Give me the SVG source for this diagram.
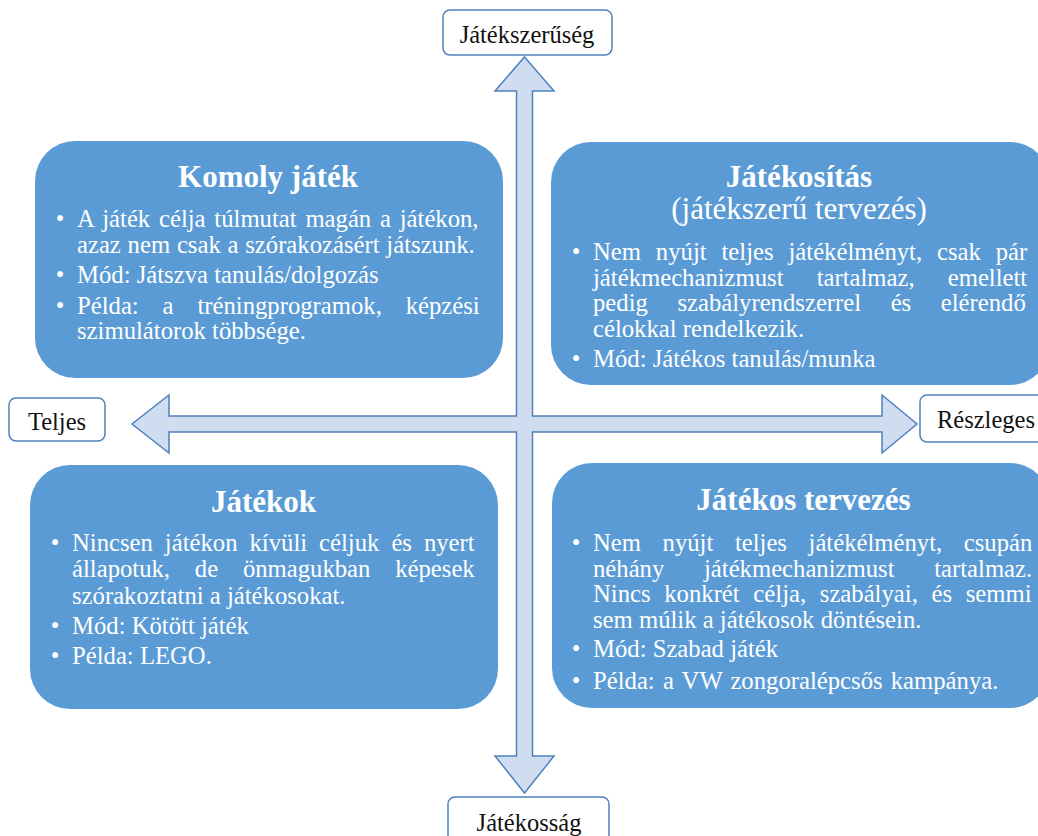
<svg xmlns="http://www.w3.org/2000/svg" width="1038" height="836" viewBox="0 0 1038 836">
<style>
.box{fill:#5B9BD5;stroke:none}
.lbl{fill:#FFFFFF;stroke:#4F81BD;stroke-width:1.5}
.arrow{fill:#D0DCEF;stroke:#4F81BD;stroke-width:1.5;stroke-linejoin:miter}
.t{font-family:"Liberation Serif","Times New Roman",serif;fill:#FFFFFF;font-size:24.7px}
.h{font-family:"Liberation Serif","Times New Roman",serif;fill:#FFFFFF;font-size:31px;text-anchor:middle}
.b{font-weight:bold}
.bul{text-anchor:middle}
.lt{font-family:"Liberation Serif","Times New Roman",serif;fill:#111111;font-size:24.5px}
</style>
<rect width="1038" height="836" fill="#FFFFFF"/>
<g id="connectors">
<path class="arrow" d="M524.5,57 L554,91 L532.5,91 L532.5,416 L882,416 L882,395 L917,424 L882,453 L882,432 L532.5,432 L532.5,756 L554,756 L524.5,793 L495,756 L516.5,756 L516.5,432 L169,432 L169,453 L132,424 L169,395 L169,416 L516.5,416 L516.5,91 L495,91 Z"/>
</g>
<g id="label-jatekszeruseg">
<rect class="lbl" x="443" y="10" width="169" height="45" rx="7"/>
<text class="lt" x="527" y="43" text-anchor="middle">Játékszerűség</text>
</g>
<g id="label-teljes">
<rect class="lbl" x="9" y="398" width="96" height="43" rx="7"/>
<text class="lt" x="57" y="430" text-anchor="middle">Teljes</text>
</g>
<g id="label-reszleges">
<rect class="lbl" x="920" y="395" width="130" height="47" rx="7"/>
<text class="lt" x="937" y="428">Részleges</text>
</g>
<g id="label-jatekossag">
<rect class="lbl" x="448" y="797" width="161" height="50" rx="7"/>
<text class="lt" x="529" y="831" text-anchor="middle">Játékosság</text>
</g>
<g id="node-komoly">
<rect class="box" x="35" y="141" width="468" height="237" rx="40"/>
<text class="h b" x="268" y="187">Komoly játék</text>
<text class="t bul" x="60" y="227">•</text>
<text class="t" x="77" y="227" word-spacing="2.6">A játék célja túlmutat magán a játékon,</text>
<text class="t" x="77" y="252.5" word-spacing="0.6">azaz nem csak a szórakozásért játszunk.</text>
<text class="t bul" x="60" y="283">•</text>
<text class="t" x="77" y="283">Mód: Játszva tanulás/dolgozás</text>
<text class="t bul" x="60" y="313.5">•</text>
<text class="t" x="77" y="313.5" word-spacing="17.7">Példa: a tréningprogramok, képzési</text>
<text class="t" x="77" y="339">szimulátorok többsége.</text>
</g>
<g id="node-jatekositas">
<rect class="box" x="551" y="142" width="499" height="243" rx="40"/>
<text class="h b" x="799" y="187">Játékosítás</text>
<text class="h" x="799" y="218.5">(játékszerű tervezés)</text>
<text class="t bul" x="576" y="259.5">•</text>
<text class="t" x="593" y="259.5" word-spacing="8.7">Nem nyújt teljes játékélményt, csak pár</text>
<text class="t" x="593" y="285.5" word-spacing="26.9">játékmechanizmust tartalmaz, emellett</text>
<text class="t" x="593" y="311" word-spacing="23.4">pedig szabályrendszerrel és elérendő</text>
<text class="t" x="593" y="337">célokkal rendelkezik.</text>
<text class="t bul" x="576" y="367">•</text>
<text class="t" x="593" y="367">Mód: Játékos tanulás/munka</text>
</g>
<g id="node-jatekok">
<rect class="box" x="30" y="465" width="468" height="244" rx="40"/>
<text class="h b" x="263.5" y="511.5">Játékok</text>
<text class="t bul" x="55" y="551">•</text>
<text class="t" x="72" y="551" word-spacing="5.8">Nincsen játékon kívüli céljuk és nyert</text>
<text class="t" x="72" y="577.3" word-spacing="18.6">állapotuk, de önmagukban képesek</text>
<text class="t" x="72" y="603.5">szórakoztatni a játékosokat.</text>
<text class="t bul" x="55" y="634">•</text>
<text class="t" x="72" y="634">Mód: Kötött játék</text>
<text class="t bul" x="55" y="664">•</text>
<text class="t" x="72" y="664">Példa: LEGO.</text>
</g>
<g id="node-jatekos-tervezes">
<rect class="box" x="552" y="463" width="498" height="245" rx="40"/>
<text class="h b" x="803.5" y="510">Játékos tervezés</text>
<text class="t bul" x="576" y="551">•</text>
<text class="t" x="593" y="551" word-spacing="15.4">Nem nyújt teljes játékélményt, csupán</text>
<text class="t" x="593" y="577" word-spacing="33.5">néhány játékmechanizmust tartalmaz.</text>
<text class="t" x="593" y="602" word-spacing="7.5">Nincs konkrét célja, szabályai, és semmi</text>
<text class="t" x="593" y="627.5">sem múlik a játékosok döntésein.</text>
<text class="t bul" x="576" y="657">•</text>
<text class="t" x="593" y="657">Mód: Szabad játék</text>
<text class="t bul" x="576" y="688.5">•</text>
<text class="t" x="593" y="688.5" word-spacing="2">Példa: a VW zongoralépcsős kampánya.</text>
</g>
</svg>
